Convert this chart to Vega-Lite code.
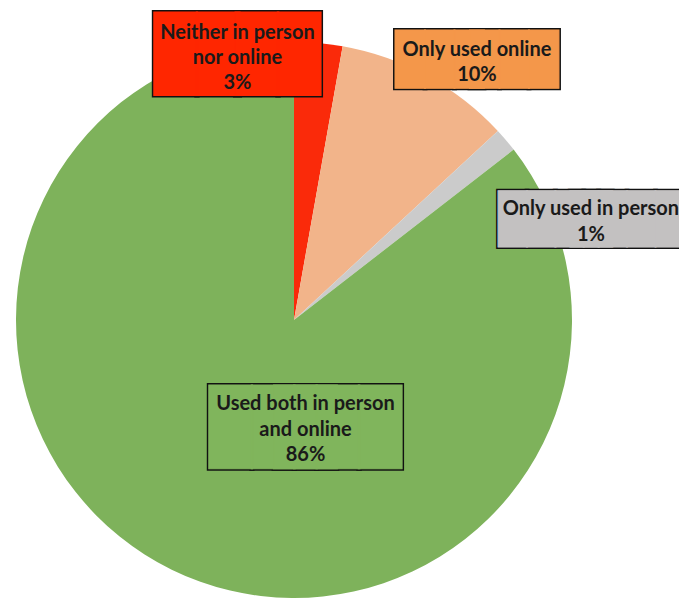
{
  "$schema": "https://vega.github.io/schema/vega-lite/v6.json",
  "width": 588,
  "height": 556,
  "autosize": "none",
  "padding": {"left": 0, "top": 42, "right": 91, "bottom": 5},
  "background": "white",
  "config": {"view": {"stroke": null}},
  "data": {
    "values": [
      {"cat": "Neither in person nor online", "label": "Neither in person\nnor online\n3%", "value": 2.8},
      {"cat": "Only used online", "label": "Only used online\n10%", "value": 10.3},
      {"cat": "Only used in person", "label": "Only used in person\n1%", "value": 1.4},
      {"cat": "Used both in person and online", "label": "Used both in person\nand online\n86%", "value": 85.5}
    ]
  },
  "transform": [{"window": [{"op": "row_number", "as": "idx"}]}],
  "encoding": {
    "theta": {"field": "value", "type": "quantitative", "stack": true},
    "order": {"field": "idx", "type": "quantitative"}
  },
  "layer": [
    {
      "mark": {"type": "arc"},
      "encoding": {
        "color": {
          "field": "cat", "type": "nominal", "legend": null,
          "scale": {
            "domain": ["Neither in person nor online", "Only used online", "Only used in person", "Used both in person and online"],
            "range": ["#FA2A0A", "#F2B48A", "#CBCBCB", "#7EB25B"]
          }
        }
      }
    },

    {"mark": {"type": "text", "radius": 267, "dx": -162.95, "dy": 23.87, "font": "DejaVu Sans Mono", "fontSize": 70.4, "align": "left", "baseline": "alphabetic", "fill": "#FF2600", "stroke": "#111111", "strokeWidth": 4, "strokeJoin": "miter"},
     "encoding": {"text": {"condition": {"test": "datum.cat === 'Neither in person nor online'", "value": "██"}, "value": ""}}},
    {"mark": {"type": "text", "radius": 267, "dx": 3.05, "dy": 23.87, "font": "DejaVu Sans Mono", "fontSize": 70.4, "align": "right", "baseline": "alphabetic", "fill": "#FF2600", "stroke": "#111111", "strokeWidth": 4, "strokeJoin": "miter"},
     "encoding": {"text": {"condition": {"test": "datum.cat === 'Neither in person nor online'", "value": "██"}, "value": ""}}},
    {"mark": {"type": "text", "radius": 267, "dx": -162.95, "dy": 23.87, "font": "DejaVu Sans Mono", "fontSize": 70.4, "align": "left", "baseline": "alphabetic", "fill": "#FF2600", "stroke": "#FF2600", "strokeWidth": 1, "strokeJoin": "miter"},
     "encoding": {"text": {"condition": {"test": "datum.cat === 'Neither in person nor online'", "value": "██"}, "value": ""}}},
    {"mark": {"type": "text", "radius": 267, "dx": 3.05, "dy": 23.87, "font": "DejaVu Sans Mono", "fontSize": 70.4, "align": "right", "baseline": "alphabetic", "fill": "#FF2600", "stroke": "#FF2600", "strokeWidth": 1, "strokeJoin": "miter"},
     "encoding": {"text": {"condition": {"test": "datum.cat === 'Neither in person nor online'", "value": "██"}, "value": ""}}},
    {"mark": {"type": "text", "radius": 267, "dx": -80, "dy": -21, "font": "Lato", "fontWeight": "bold", "fontSize": 20, "lineHeight": 25, "lineBreak": "\n", "fill": "#1a1a1a", "align": "center", "baseline": "middle"},
     "encoding": {"text": {"condition": {"test": "datum.cat === 'Neither in person nor online'", "field": "label"}, "value": ""}}},

    {"mark": {"type": "text", "radius": 297, "dx": -40.77, "dy": 16.64, "font": "DejaVu Sans Mono", "fontSize": 48.97, "align": "left", "baseline": "alphabetic", "fill": "#F4974A", "stroke": "#111111", "strokeWidth": 4, "strokeJoin": "miter"},
     "encoding": {"text": {"condition": {"test": "datum.cat === 'Only used online'", "value": "███"}, "value": ""}}},
    {"mark": {"type": "text", "radius": 297, "dx": 122.23, "dy": 16.64, "font": "DejaVu Sans Mono", "fontSize": 48.97, "align": "right", "baseline": "alphabetic", "fill": "#F4974A", "stroke": "#111111", "strokeWidth": 4, "strokeJoin": "miter"},
     "encoding": {"text": {"condition": {"test": "datum.cat === 'Only used online'", "value": "███"}, "value": ""}}},
    {"mark": {"type": "text", "radius": 297, "dx": -40.77, "dy": 16.64, "font": "DejaVu Sans Mono", "fontSize": 48.97, "align": "left", "baseline": "alphabetic", "fill": "#F4974A", "stroke": "#F4974A", "strokeWidth": 1, "strokeJoin": "miter"},
     "encoding": {"text": {"condition": {"test": "datum.cat === 'Only used online'", "value": "███"}, "value": ""}}},
    {"mark": {"type": "text", "radius": 297, "dx": 122.23, "dy": 16.64, "font": "DejaVu Sans Mono", "fontSize": 48.97, "align": "right", "baseline": "alphabetic", "fill": "#F4974A", "stroke": "#F4974A", "strokeWidth": 1, "strokeJoin": "miter"},
     "encoding": {"text": {"condition": {"test": "datum.cat === 'Only used online'", "value": "███"}, "value": ""}}},
    {"mark": {"type": "text", "radius": 297, "dx": 40.7, "dy": -9, "font": "Lato", "fontWeight": "bold", "fontSize": 20, "lineHeight": 25, "lineBreak": "\n", "fill": "#1a1a1a", "align": "center", "baseline": "middle"},
     "encoding": {"text": {"condition": {"test": "datum.cat === 'Only used online'", "field": "label"}, "value": ""}}},

    {"mark": {"type": "text", "radius": 300, "dx": -24.26, "dy": 109.43, "font": "DejaVu Sans Mono", "fontSize": 47.25, "align": "left", "baseline": "alphabetic", "fill": "#C3C1C1", "stroke": "#111111", "strokeWidth": 4, "strokeJoin": "miter"},
     "encoding": {"text": {"condition": {"test": "datum.cat === 'Only used in person'", "value": "████"}, "value": ""}}},
    {"mark": {"type": "text", "radius": 300, "dx": 161.24, "dy": 109.43, "font": "DejaVu Sans Mono", "fontSize": 47.25, "align": "right", "baseline": "alphabetic", "fill": "#C3C1C1", "stroke": "#111111", "strokeWidth": 4, "strokeJoin": "miter"},
     "encoding": {"text": {"condition": {"test": "datum.cat === 'Only used in person'", "value": "████"}, "value": ""}}},
    {"mark": {"type": "text", "radius": 300, "dx": -24.26, "dy": 109.43, "font": "DejaVu Sans Mono", "fontSize": 47.25, "align": "left", "baseline": "alphabetic", "fill": "#C3C1C1", "stroke": "#C3C1C1", "strokeWidth": 1, "strokeJoin": "miter"},
     "encoding": {"text": {"condition": {"test": "datum.cat === 'Only used in person'", "value": "████"}, "value": ""}}},
    {"mark": {"type": "text", "radius": 300, "dx": 161.24, "dy": 109.43, "font": "DejaVu Sans Mono", "fontSize": 47.25, "align": "right", "baseline": "alphabetic", "fill": "#C3C1C1", "stroke": "#C3C1C1", "strokeWidth": 1, "strokeJoin": "miter"},
     "encoding": {"text": {"condition": {"test": "datum.cat === 'Only used in person'", "value": "████"}, "value": ""}}},
    {"mark": {"type": "text", "radius": 300, "dx": 68.2, "dy": 83, "font": "Lato", "fontWeight": "bold", "fontSize": 20, "lineHeight": 26, "lineBreak": "\n", "fill": "#1a1a1a", "align": "center", "baseline": "middle"},
     "encoding": {"text": {"condition": {"test": "datum.cat === 'Only used in person'", "field": "label"}, "value": ""}}},

    {"mark": {"type": "text", "radius": 119, "dx": -32.15, "dy": 24.0, "font": "DejaVu Sans Mono", "fontSize": 70.45, "align": "left", "baseline": "alphabetic", "fill": "#80B55C", "stroke": "#111111", "strokeWidth": 4, "strokeJoin": "miter"},
     "encoding": {"text": {"condition": {"test": "datum.cat === 'Used both in person and online'", "value": "███"}, "value": ""}}},
    {"mark": {"type": "text", "radius": 119, "dx": 159.85, "dy": 24.0, "font": "DejaVu Sans Mono", "fontSize": 70.45, "align": "right", "baseline": "alphabetic", "fill": "#80B55C", "stroke": "#111111", "strokeWidth": 4, "strokeJoin": "miter"},
     "encoding": {"text": {"condition": {"test": "datum.cat === 'Used both in person and online'", "value": "███"}, "value": ""}}},
    {"mark": {"type": "text", "radius": 119, "dx": -32.15, "dy": 24.0, "font": "DejaVu Sans Mono", "fontSize": 70.45, "align": "left", "baseline": "alphabetic", "fill": "#80B55C", "stroke": "#80B55C", "strokeWidth": 1, "strokeJoin": "miter"},
     "encoding": {"text": {"condition": {"test": "datum.cat === 'Used both in person and online'", "value": "███"}, "value": ""}}},
    {"mark": {"type": "text", "radius": 119, "dx": 159.85, "dy": 24.0, "font": "DejaVu Sans Mono", "fontSize": 70.45, "align": "right", "baseline": "alphabetic", "fill": "#80B55C", "stroke": "#80B55C", "strokeWidth": 1, "strokeJoin": "miter"},
     "encoding": {"text": {"condition": {"test": "datum.cat === 'Used both in person and online'", "value": "███"}, "value": ""}}},
    {"mark": {"type": "text", "radius": 119, "dx": 63.85, "dy": -22.4, "font": "Lato", "fontWeight": "bold", "fontSize": 20, "lineHeight": 25.5, "lineBreak": "\n", "fill": "#1a1a1a", "align": "center", "baseline": "middle"},
     "encoding": {"text": {"condition": {"test": "datum.cat === 'Used both in person and online'", "field": "label"}, "value": ""}}}
  ]
}
